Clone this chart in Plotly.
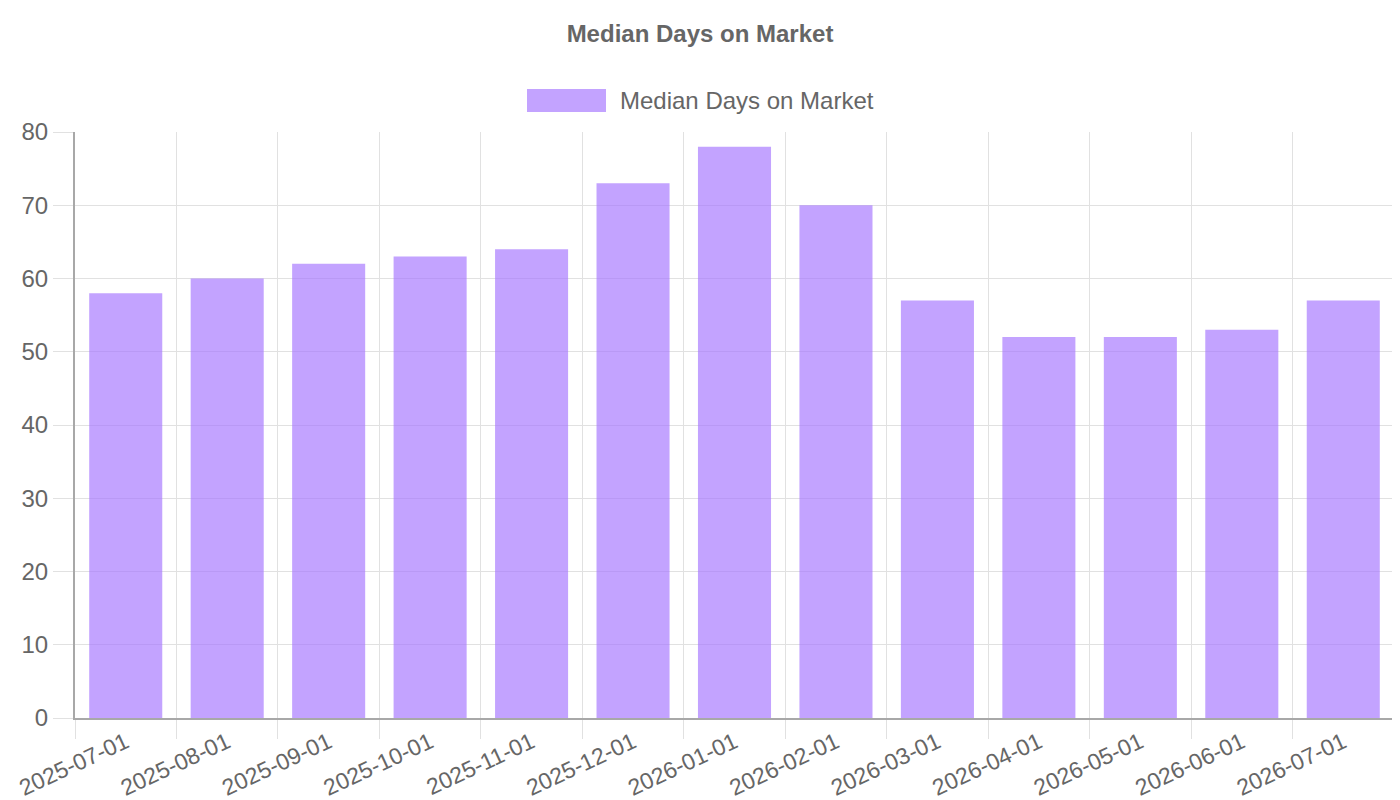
import plotly.graph_objects as go

# data
months = ['2025-07-01', '2025-08-01', '2025-09-01', '2025-10-01', '2025-11-01',
          '2025-12-01', '2026-01-01', '2026-02-01', '2026-03-01', '2026-04-01',
          '2026-05-01', '2026-06-01', '2026-07-01']
median_days = [58, 60, 62, 63, 64, 73, 78, 70, 57, 52, 52, 53, 57]
series_name = 'Median Days on Market'

bar_color = 'rgba(167, 119, 255, 0.68)'
text_color = '#666666'
grid_color = '#e1e1e1'
axis_color = '#a8a8a8'

# page has an 8px body margin, so the figure is shifted by 8px
W, H = 1388, 792
plot_w, plot_h = 1319, 586

fig = go.Figure()
fig.add_trace(
    go.Bar(
        x=months,
        y=median_days,
        name=series_name,
        marker=dict(color=bar_color, line=dict(width=0)),
        showlegend=False,
    )
)

# chart.js style legend box + label above the plot
fig.add_shape(
    type='rect', xref='paper', yref='paper',
    x0=(527 - 75) / plot_w, x1=(606 - 75) / plot_w,
    y0=1 + (132 - 112) / plot_h, y1=1 + (132 - 89) / plot_h,
    fillcolor=bar_color, line=dict(width=0),
)
fig.add_annotation(
    text=series_name, xref='paper', yref='paper',
    x=(618 - 75) / plot_w, y=1 + (132 - 100) / plot_h,
    xanchor='left', yanchor='middle', showarrow=False,
    font=dict(size=24, color=text_color),
)

fig.update_layout(
    width=W,
    height=H,
    plot_bgcolor='white',
    paper_bgcolor='white',
    font=dict(family='Liberation Sans, Arial, sans-serif', color=text_color, size=24),
    title=dict(
        text='<b>' + series_name + '</b>',
        x=(700 - 8) / W, xanchor='center', y=1 - 26 / H, yanchor='middle',
        font=dict(size=24, color=text_color),
    ),
    margin=dict(l=67, r=2, t=124, b=H - 124 - plot_h),
    bargap=0.28,
    showlegend=False,
)
fig.update_xaxes(
    type='category',
    tickson='boundaries',
    ticks='outside',
    ticklen=19,
    tickcolor=grid_color,
    tickwidth=1,
    tickangle=-25,
    tickfont=dict(size=23, color=text_color),
    showgrid=True,
    gridcolor=grid_color,
    showline=True,
    linecolor=axis_color,
    linewidth=2,
    automargin=False,
)
fig.update_yaxes(
    range=[0, 80],
    dtick=10,
    ticks='outside',
    ticklen=20,
    tickcolor=grid_color,
    tickfont=dict(size=24, color=text_color),
    showgrid=True,
    gridcolor=grid_color,
    zeroline=False,
    showline=True,
    linecolor=axis_color,
    linewidth=2,
    automargin=False,
)

fig.write_html('out.html')
